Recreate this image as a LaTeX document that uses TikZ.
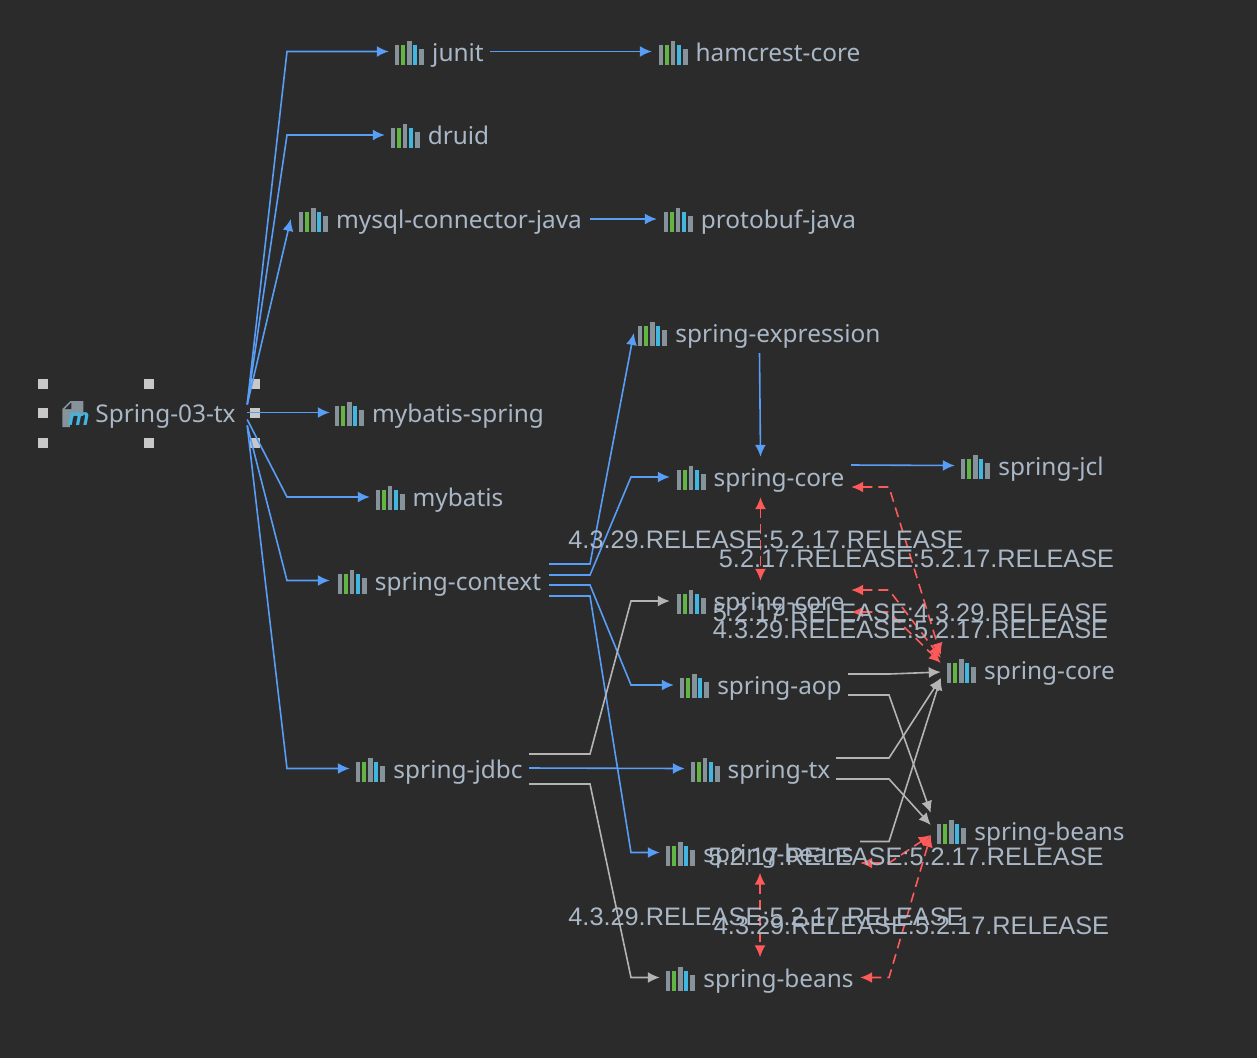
\documentclass[tikz,border=0pt]{standalone}
\usepackage{fontspec}
\setmainfont{Noto Sans}
\newfontfamily\edgefont{Liberation Sans}
\usetikzlibrary{
  arrows.meta,
  calc
}
\definecolor{canvas}{HTML}{2B2B2B}
\definecolor{labeltext}{HTML}{A9B7C6}
\definecolor{depblue}{HTML}{589DF6}
\definecolor{depgray}{HTML}{B4B4B4}
\definecolor{depred}{HTML}{FF5A5A}
\definecolor{handle}{HTML}{C8C8C8}
\definecolor{bargray}{HTML}{87939A}
\definecolor{bargreen}{HTML}{62B543}
\definecolor{barblue}{HTML}{40B6E0}

\newcommand{\libicon}{%
  \tikz[x=1pt, y=1pt, baseline=3.5pt] {
    \fill[bargray] (0,0) rectangle (4,20);
    \fill[bargreen] (6,0) rectangle (10,20);
    \fill[bargray] (12,0) rectangle (16.5,24);
    \fill[barblue] (18,0) rectangle (22,20);
    \fill[bargray] (24,0) rectangle (29,16);
  }%
}
\newcommand{\libtext}[1]{\libicon\hspace{8pt}#1\hspace{7pt}}
\newcommand{\fileicon}{%
  \tikz[x=1pt, y=1pt, baseline=5pt] {
    \fill[bargray] (0,18) -- (8,26) -- (21,26) -- (21,0) -- (0,0) -- cycle;
    \fill[canvas] (2.5,18) -- (9,24.5) -- (9,18) -- cycle;
    \fill[canvas] (8,-4) rectangle (27,11);
  }%
  \llap{\raisebox{-3pt}{\textcolor{barblue}{\edgefont\fontsize{24}{24}\selectfont\bfseries\itshape m}}}%
}
% elbow at the level of the start
\newcommand{\outdraw}[6]{%
  \draw[#1] ($(#2)+(0,#3)$) coordinate (start) -- (#4,0 |- start) -- ($(#5)+(0,#6)$);
}
% elbow at the level of the end
\newcommand{\indraw}[6]{%
  \draw[#1] ($(#2)+(0,#3)$) -- (#4,0 |- #5) -- ($(#5)+(0,#6)$);
}
% both elbows
\newcommand{\twodraw}[4]{%
  \draw[#1] ($(#2)+(0,#3)$) coordinate (start) -- (590,0 |- start) -- (631,0 |- #4) -- (#4);
}

\begin{document}
\begin{tikzpicture}[x=1pt, y=-1pt]

\tikzset{
  libnode/.style={
    text=labeltext,
    font=\fontsize{24.4}{28}\selectfont,
    inner sep=0pt,
    minimum height=40pt,
    text height=22pt,
    text depth=3pt
  },
  handlebox/.style={
    fill=handle,
    inner sep=0pt,
    minimum size=10pt
  },
  verlabel/.style={
    text=labeltext,
    font=\edgefont\fontsize{25.3}{28}\selectfont,
    inner sep=0pt
  },
  depline/.style={
    ->,
    line width=1.6pt,
    draw=depblue,
    >={Latex[length=12pt, width=11pt]}
  },
  omitline/.style={
    ->,
    line width=1.6pt,
    draw=depgray,
    >={Latex[length=12pt, width=11pt]}
  },
  conflict/.style={
    <->,
    line width=1.6pt,
    draw=depred,
    dash pattern=on 10pt off 6pt,
    >={Latex[length=12pt, width=11pt]}
  }
}

\fill[canvas] (0,0) rectangle (1257,1058);

% HANDLES --------------------------------------------------------

\foreach \hx/\hy in {43/384, 149/384, 255/384, 43/413, 255/413, 43/443, 149/443, 255/443} {
  \node[handlebox] (handle\hx\hy) at (\hx,\hy) {};
}

% NODES ----------------------------------------------------------

% Root
\node[libnode, minimum width=196pt] (root) at (149,412.5) {\fileicon\hspace{6pt}Spring-03-tx};

% Direct dependencies
\node[libnode, minimum width=101pt] (junit)   at (439.5,51.5)  {\libtext{junit}};
\node[libnode, minimum width=110pt] (druid)   at (440,135)     {\libtext{druid}};
\node[libnode, minimum width=299pt] (mysql)   at (440.5,219)   {\libtext{mysql-connector-java}};
\node[libnode, minimum width=219pt] (mbspring) at (439.5,412.5) {\libtext{mybatis-spring}};
\node[libnode, minimum width=139pt] (mybatis) at (439.5,497)   {\libtext{mybatis}};
\node[libnode, minimum width=219pt] (context) at (439.5,580.5) {\libtext{spring-context}};
\node[libnode, minimum width=179pt] (jdbc)    at (439.5,768.5) {\libtext{spring-jdbc}};

% Second column
\node[libnode, minimum width=215pt] (hamcrest) at (759.5,51.5) {\libtext{hamcrest-core}};
\node[libnode, minimum width=206pt] (protobuf) at (760,219)    {\libtext{protobuf-java}};
\node[libnode, minimum width=251pt] (express)  at (759.5,333)  {\libtext{spring-expression}};
\node[libnode, minimum width=181pt] (corectx)  at (760.5,477)  {\libtext{spring-core}};
\node[libnode, minimum width=181pt] (corejdbc) at (760.5,601)  {\libtext{spring-core}};
\node[libnode, minimum width=174pt] (aop)      at (761,685)    {\libtext{spring-aop}};
\node[libnode, minimum width=151pt] (tx)       at (760.5,768.5) {\libtext{spring-tx}};
\node[libnode, minimum width=200pt] (beansctx) at (760,852.5)  {\libtext{spring-beans}};
\node[libnode, minimum width=200pt] (beansjdbc) at (760,977.5) {\libtext{spring-beans}};

% Third column
\node[libnode, minimum width=155pt] (jcl)      at (1032.5,465.5) {\libtext{spring-jcl}};
\node[libnode, minimum width=180pt] (corelib)  at (1031,670)   {\libtext{spring-core}};
\node[libnode, minimum width=200pt] (beanslib) at (1031,831)   {\libtext{spring-beans}};

% DRAWS ---------------------------------------------------------

% Root to direct dependencies
\indraw{depline}{root.east}{-8}{287}{junit.west}{0}
\indraw{depline}{root.east}{-8}{287}{druid.west}{0}
\draw[depline] ($(root.east)+(0,-8)$) -- (mysql.west);
\draw[depline] (root.east) -- (mbspring.west);
\indraw{depline}{root.east}{7}{287}{mybatis.west}{0}
\indraw{depline}{root.east}{13}{287}{context.west}{0}
\indraw{depline}{root.east}{13}{287}{jdbc.west}{0}

% Blue
\draw[depline] (junit.east) -- (hamcrest.west);
\draw[depline] (mysql.east) -- (protobuf.west);
\draw[depline] (express.south) -- (corectx.north);
\draw[depline] ($(corectx.east)+(0,-12)$) -- (jcl.west);
\outdraw{depline}{context.east}{-16.5}{590}{express.west}{0}
\twodraw{depline}{context.east}{-5.5}{corectx.west}
\twodraw{depline}{context.east}{4.5}{aop.west}
\twodraw{depline}{context.east}{15.5}{beansctx.west}
\draw[depline] ($(jdbc.east)+(0,-0.5)$) -- (tx.west);

% Gray
\twodraw{omitline}{jdbc.east}{-14.5}{corejdbc.west}
\twodraw{omitline}{jdbc.east}{15.5}{beansjdbc.west}
\outdraw{omitline}{aop.east}{-11}{889}{corelib.west}{2}
\outdraw{omitline}{aop.east}{10}{889}{beanslib.west}{-18}
\outdraw{omitline}{tx.east}{-10.5}{889}{corelib.west}{8}
\outdraw{omitline}{tx.east}{10.5}{889}{beanslib.west}{-6}
\outdraw{omitline}{beansctx.east}{-11}{889}{corelib.west}{8}

% Red
\outdraw{conflict}{corectx.east}{10}{889}{corelib.west}{-15}
\outdraw{conflict}{corejdbc.east}{-11}{889}{corelib.west}{-12}
\outdraw{conflict}{corejdbc.east}{11}{889}{corelib.west}{-7}
\draw[conflict] (corectx.south) -- (corejdbc.north);
\outdraw{conflict}{beansctx.east}{10.5}{889}{beanslib.west}{4}
\outdraw{conflict}{beansjdbc.east}{0}{889}{beanslib.west}{4}
\draw[conflict] (beansctx.south) -- (beansjdbc.north);

% Version labels
\node[verlabel] (ver1) at (766,540)     {4.3.29.RELEASE:5.2.17.RELEASE};
\node[verlabel] (ver2) at (916.5,559)   {5.2.17.RELEASE:5.2.17.RELEASE};
\node[verlabel] (ver3) at (910.5,613)   {5.2.17.RELEASE:4.3.29.RELEASE};
\node[verlabel] (ver4) at (910.5,630)   {4.3.29.RELEASE:5.2.17.RELEASE};
\node[verlabel] (ver5) at (906,857)     {5.2.17.RELEASE:5.2.17.RELEASE};
\node[verlabel] (ver6) at (766,917)     {4.3.29.RELEASE:5.2.17.RELEASE};
\node[verlabel] (ver7) at (911.5,926)   {4.3.29.RELEASE:5.2.17.RELEASE};

\end{tikzpicture}
\end{document}
